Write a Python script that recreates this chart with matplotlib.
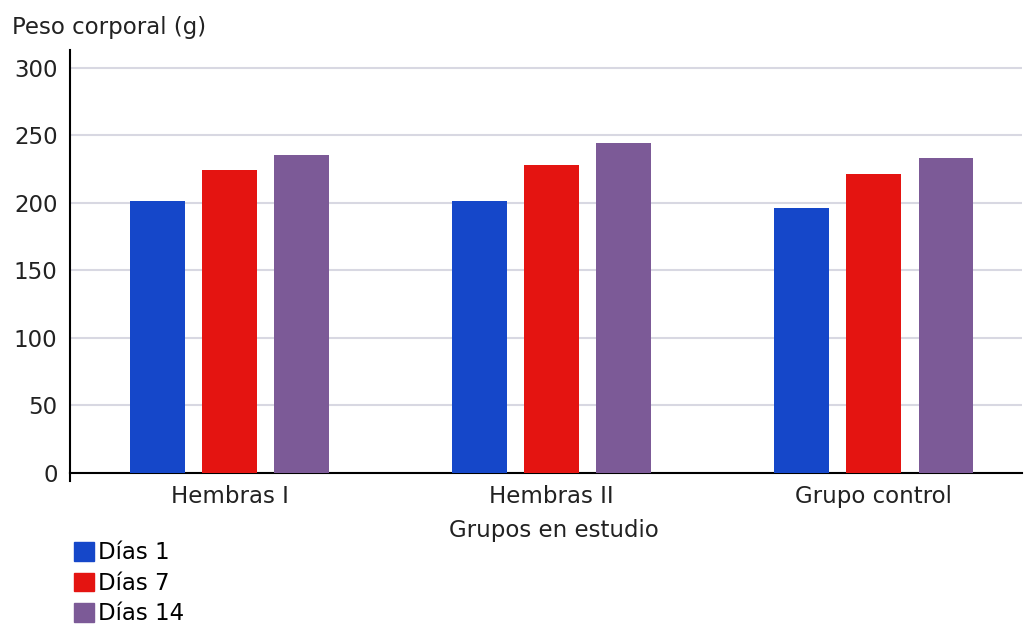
import numpy as np
import matplotlib.pyplot as plt
from matplotlib.patches import Patch

# Datos del gráfico
grupos = ['Hembras I', 'Hembras II', 'Grupo control']
series = ['Días 1', 'Días 7', 'Días 14']
dias_1 = [201.5, 201.5, 196]
dias_7 = [224.5, 228, 221.5]
dias_14 = [235.5, 244, 233]
colores = ['#1547c9', '#e41411', '#7c5a97']

plt.rcParams['font.family'] = ['DejaVu Sans']
plt.rcParams['font.size'] = 16.5

fig = plt.figure(figsize=(10.25, 6.28), dpi=100)
ax = fig.add_axes([0.0683, 0.2473, 0.9287, 0.6727])

x = np.arange(len(grupos))
ancho = 0.17
desp = 0.224
for i, (vals, col) in enumerate(zip([dias_1, dias_7, dias_14], colores)):
    ax.bar(x + (i - 1) * desp, vals, ancho, color=col, zorder=3)

ax.set_xlim(-0.495, 2.46)
ax.set_ylim(0, 313)
ax.set_yticks(range(0, 301, 50))
ax.set_xticks(x)
ax.set_xticklabels(grupos, color='#222222')
ax.tick_params(axis='x', length=0, pad=9)
ax.tick_params(axis='y', length=0, pad=9, colors='#222222')
ax.grid(axis='y', color='#d8d8e2', linewidth=1.5, zorder=0)

for s in ['top', 'right']:
    ax.spines[s].set_visible(False)
ax.spines['left'].set_linewidth(1.5)
ax.spines['bottom'].set_linewidth(1.5)

# pequeña marca bajo el origen
ax.plot([-0.495, -0.495], [0, -6], color='black', lw=1.5, clip_on=False)

fig.text(0.012, 0.957, 'Peso corporal (g)', color='#222222', va='center')
fig.text(0.54, 0.155, 'Grupos en estudio', color='#222222', ha='center', va='center')

handles = [Patch(color=c, label=s) for c, s in zip(colores, series)]
fig.legend(handles=handles, loc='upper left', bbox_to_anchor=(0.072, 0.138),
           frameon=False, handlelength=0.87, handleheight=0.87, handletextpad=0.2,
           labelspacing=0.33, borderaxespad=0, borderpad=0)

fig.savefig('out.png', dpi=100)
